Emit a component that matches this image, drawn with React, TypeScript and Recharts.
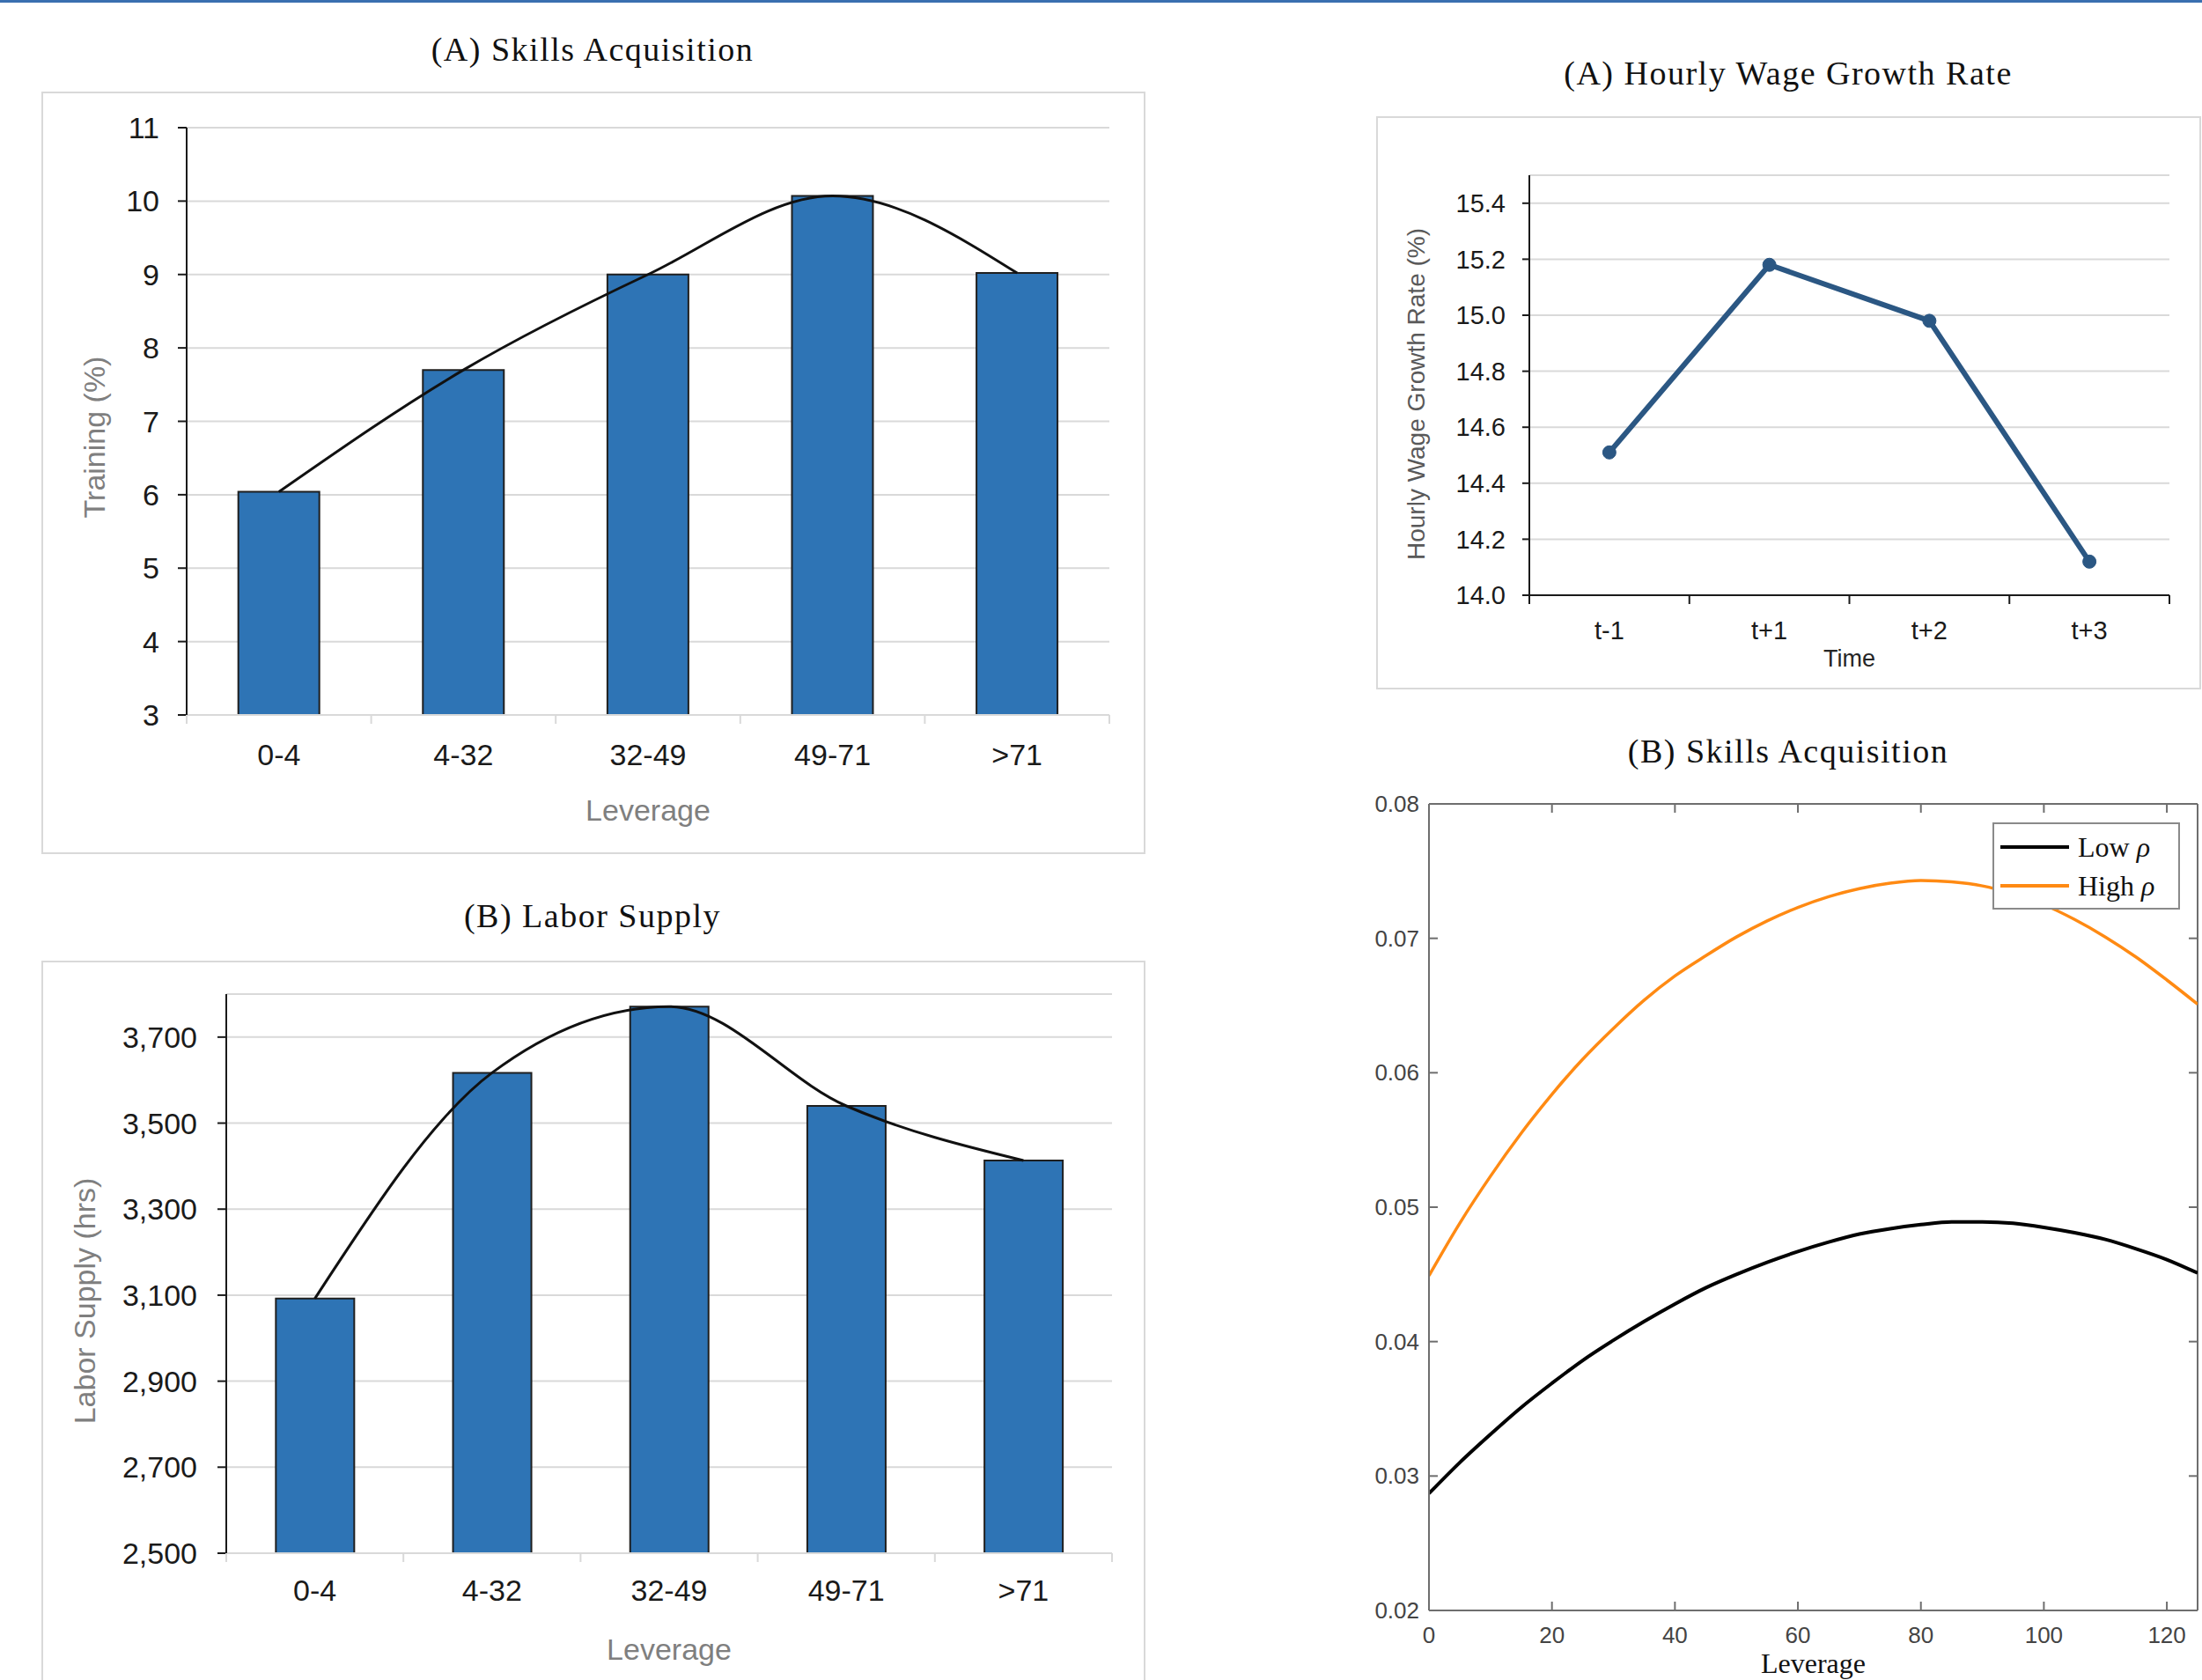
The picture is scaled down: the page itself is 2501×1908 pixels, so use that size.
import React from 'react';
import { ComposedChart, LineChart, Bar, Line, XAxis, YAxis, CartesianGrid, Legend, Label, ReferenceLine } from 'recharts';

// values
const leverageBins = ['0-4', '4-32', '32-49', '49-71', '>71'];
const trainingPct = [6.04, 7.7, 9.0, 10.07, 9.02];
const laborHours = [3092, 3617, 3771, 3540, 3413];
const trainingTicks = [3, 4, 5, 6, 7, 8, 9, 10, 11];
const laborTicks = [2500, 2700, 2900, 3100, 3300, 3500, 3700];

const timeLabels = ['t-1', 't+1', 't+2', 't+3'];
const wageGrowth = [14.51, 15.18, 14.98, 14.12];
const wageTicks = [14.0, 14.2, 14.4, 14.6, 14.8, 15.0, 15.2, 15.4];

const leverageGrid = [0, 5, 10, 15, 20, 25, 30, 35, 40, 45, 50, 55, 60, 65, 70, 75, 80, 85, 90, 95, 100, 105, 110, 115, 120, 125];
const lowRho = [0.0287, 0.031, 0.0331, 0.0351, 0.0369, 0.0386, 0.0401, 0.0415, 0.0428, 0.044, 0.045, 0.0459, 0.0467, 0.0474, 0.048, 0.0484, 0.0487, 0.0489, 0.0489, 0.0488, 0.0485, 0.0481, 0.0476, 0.0469, 0.0461, 0.0451];
const highRho = [0.0449, 0.0488, 0.0523, 0.0555, 0.0584, 0.061, 0.0633, 0.0654, 0.0672, 0.0687, 0.0701, 0.0713, 0.0723, 0.0731, 0.0737, 0.0741, 0.0743, 0.0742, 0.0739, 0.0733, 0.0725, 0.0714, 0.0701, 0.0686, 0.0669, 0.0651];
const modelXTicks = [0, 20, 40, 60, 80, 100, 120];
const modelYTicks = [0.02, 0.03, 0.04, 0.05, 0.06, 0.07, 0.08];

const SANS = "'Liberation Sans', Arial, Helvetica, sans-serif";
const SERIF = "'Liberation Serif', 'Times New Roman', serif";

const trainingData = leverageBins.map((bin, i) => ({ bin, value: trainingPct[i] }));
const laborData = leverageBins.map((bin, i) => ({ bin, value: laborHours[i] }));
const wageData = timeLabels.map((t, i) => ({ t, value: wageGrowth[i] }));
const modelData = leverageGrid.map((x, i) => ({ x, low: lowRho[i], high: highRho[i] }));

const Title = ({ text, cx, cy }: { text: string; cx: number; cy: number }) => (
  <div
    style={{
      position: 'absolute', left: cx - 400, top: cy - 22, width: 800, height: 44, lineHeight: '44px',
      textAlign: 'center', fontFamily: SERIF, fontSize: 38, letterSpacing: 1.5, color: '#111', whiteSpace: 'nowrap',
    }}
  >
    {text}
  </div>
);

// excel style category tick: label in the middle, small tick marks at the band edges
const CategoryTick = (props: any) => {
  const { x, y, payload, index, band, count, labelDy, fontSize, color, tickColor, tickLen } = props;
  const left = x - band / 2;
  return (
    <g>
      <line x1={left} y1={y} x2={left} y2={y + tickLen} stroke={tickColor} strokeWidth={2} />
      {index === count - 1 && <line x1={left + band} y1={y} x2={left + band} y2={y + tickLen} stroke={tickColor} strokeWidth={2} />}
      <text x={x} y={y + labelDy} dy="0.35em" textAnchor="middle" fontSize={fontSize} fill={color} fontFamily={SANS}>
        {payload.value}
      </text>
    </g>
  );
};

// matlab style: ticks point inwards, mirrored on the opposite side of the box
const BoxXTick = (props: any) => {
  const { x, y, payload, plotHeight } = props;
  return (
    <g>
      <line x1={x} y1={y} x2={x} y2={y - 10} stroke="#6e6e6e" strokeWidth={2} />
      <line x1={x} y1={y - plotHeight} x2={x} y2={y - plotHeight + 10} stroke="#6e6e6e" strokeWidth={2} />
      <text x={x} y={y + 28} dy="0.35em" textAnchor="middle" fontSize={26} fill="#444" fontFamily={SANS}>
        {payload.value}
      </text>
    </g>
  );
};

const BoxYTick = (props: any) => {
  const { x, y, payload, plotWidth } = props;
  return (
    <g>
      <line x1={x} y1={y} x2={x + 10} y2={y} stroke="#6e6e6e" strokeWidth={2} />
      <line x1={x + plotWidth - 10} y1={y} x2={x + plotWidth} y2={y} stroke="#6e6e6e" strokeWidth={2} />
      <text x={x - 11} y={y} dy="0.35em" textAnchor="end" fontSize={26} fill="#444" fontFamily={SANS}>
        {Number(payload.value).toFixed(2)}
      </text>
    </g>
  );
};

const xTitle = (text: string, dy: number, size: number, color: string, family = SANS) => ({ viewBox }: any) => (
  <text x={viewBox.x + viewBox.width / 2} y={viewBox.y + dy} dy="0.35em" textAnchor="middle" fontSize={size} fill={color} fontFamily={family}>
    {text}
  </text>
);

const yTitle = (text: string, dx: number, dyc: number, size: number, color: string) => ({ viewBox }: any) => {
  const cx = viewBox.x + dx;
  const cy = viewBox.y + viewBox.height / 2 + dyc;
  return (
    <text x={cx} y={cy} dy="0.35em" textAnchor="middle" transform={`rotate(-90 ${cx} ${cy})`} fontSize={size} fill={color} fontFamily={SANS}>
      {text}
    </text>
  );
};

const RhoLegend = ({ payload }: any) => (
  <div style={{ width: 213, height: 99, boxSizing: 'border-box', border: '2px solid #8a8a8a', background: '#fff', paddingTop: 4 }}>
    {(payload || []).map((p: any) => {
      const name = String(p.value);
      const word = name.slice(0, name.lastIndexOf(' '));
      return (
        <div key={name} style={{ display: 'flex', alignItems: 'center', height: 44 }}>
          <div style={{ width: 78, height: 4, background: p.color, marginLeft: 7 }} />
          <span style={{ marginLeft: 10, fontFamily: SERIF, fontSize: 32, color: '#111', lineHeight: '44px', whiteSpace: 'nowrap' }}>
            {word} <i>ρ</i>
          </span>
        </div>
      );
    })}
  </div>
);

const boxStyle = (left: number, top: number, width: number, height: number): React.CSSProperties => ({
  position: 'absolute', left, top, width, height, boxSizing: 'border-box', border: '2px solid #d9d9d9',
});

export default function App() {
  const dark = '#1a1a1a';
  const grid = '#d9d9d9';
  const band1 = (1260 - 212) / leverageBins.length;
  const band2 = (1263 - 257) / leverageBins.length;
  const band3 = (2464 - 1737) / timeLabels.length;
  const modelPlotW = 2496 - 1623;
  const modelPlotH = 1829 - 913;

  return (
    <div style={{ position: 'absolute', left: 0, top: 0, width: 2501, height: 1908, overflow: 'hidden', background: '#fff', fontFamily: SANS }}>
      <div style={{ position: 'absolute', left: 0, top: 0, width: 2501, height: 3, background: '#3a6fb0' }} />

      {/* (A) Skills Acquisition - bars */}
      <Title text="(A) Skills Acquisition" cx={673} cy={56} />
      <div style={boxStyle(47, 104, 1254, 866)} />
      <div style={{ position: 'absolute', left: 48, top: 105 }}>
        <ComposedChart width={1252} height={863} data={trainingData} margin={{ top: 40, right: 40, bottom: 96, left: 0 }} barCategoryGap="28%">
          <CartesianGrid vertical={false} stroke={grid} strokeWidth={2} />
          <XAxis
            dataKey="bin" interval={0} height={60} tickLine={false} tickSize={0} tickMargin={0}
            axisLine={{ stroke: grid, strokeWidth: 2 }}
            tick={<CategoryTick band={band1} count={leverageBins.length} labelDy={45} fontSize={34} color={dark} tickColor={grid} tickLen={10} />}
          >
            <Label content={xTitle('Leverage', 108, 34, '#7f7f7f')} />
          </XAxis>
          <YAxis
            domain={[3, 11]} ticks={trainingTicks} interval={0} width={164} tickSize={10} tickMargin={21}
            axisLine={{ stroke: dark, strokeWidth: 2 }} tickLine={{ stroke: dark, strokeWidth: 2 }}
            tick={{ fontSize: 34, fill: dark, fontFamily: SANS }}
          >
            <Label content={yTitle('Training (%)', 59, 18, 34, '#7f7f7f')} />
          </YAxis>
          <Bar dataKey="value" fill="#2e74b5" stroke="#1f1f1f" strokeWidth={2} isAnimationActive={false} />
          <Line type="monotone" dataKey="value" stroke="#111" strokeWidth={3} dot={false} isAnimationActive={false} />
        </ComposedChart>
      </div>

      {/* (B) Labor Supply - bars */}
      <Title text="(B) Labor Supply" cx={673} cy={1040} />
      <div style={boxStyle(47, 1091, 1254, 900)} />
      <div style={{ position: 'absolute', left: 48, top: 1091 }}>
        <ComposedChart width={1252} height={817} data={laborData} margin={{ top: 38, right: 37, bottom: 84, left: 0 }} barCategoryGap="28%">
          <CartesianGrid vertical={false} stroke={grid} strokeWidth={2} />
          <XAxis
            dataKey="bin" interval={0} height={60} tickLine={false} tickSize={0} tickMargin={0}
            axisLine={{ stroke: grid, strokeWidth: 2 }}
            tick={<CategoryTick band={band2} count={leverageBins.length} labelDy={42} fontSize={34} color={dark} tickColor={grid} tickLen={10} />}
          >
            <Label content={xTitle('Leverage', 109, 34, '#7f7f7f')} />
          </XAxis>
          <YAxis
            domain={[2500, 3800]} ticks={laborTicks} interval={0} width={209} tickSize={10} tickMargin={23}
            tickFormatter={(v: number) => v.toLocaleString('en-US')}
            axisLine={{ stroke: dark, strokeWidth: 2 }} tickLine={{ stroke: dark, strokeWidth: 2 }}
            tick={{ fontSize: 34, fill: dark, fontFamily: SANS }}
          >
            <Label content={yTitle('Labor Supply (hrs)', 48, 31, 34, '#7f7f7f')} />
          </YAxis>
          <Bar dataKey="value" fill="#2e74b5" stroke="#1f1f1f" strokeWidth={2} isAnimationActive={false} />
          <Line type="monotone" dataKey="value" stroke="#111" strokeWidth={3} dot={false} isAnimationActive={false} />
        </ComposedChart>
      </div>

      {/* (A) Hourly Wage Growth Rate - line */}
      <Title text="(A) Hourly Wage Growth Rate" cx={2031} cy={83} />
      <div style={boxStyle(1563, 132, 937, 651)} />
      <div style={{ position: 'absolute', left: 1563, top: 132 }}>
        <LineChart width={938} height={650} data={wageData} margin={{ top: 67, right: 37, bottom: 56, left: 0 }}>
          <CartesianGrid vertical={false} stroke={grid} strokeWidth={2} />
          <XAxis
            dataKey="t" interval={0} height={50} tickLine={false} tickSize={0} tickMargin={0}
            padding={{ left: band3 / 2, right: band3 / 2 }}
            axisLine={{ stroke: dark, strokeWidth: 2 }}
            tick={<CategoryTick band={band3} count={timeLabels.length} labelDy={40} fontSize={29} color={dark} tickColor={dark} tickLen={10} />}
          >
            <Label content={xTitle('Time', 72, 27, '#262626')} />
          </XAxis>
          <YAxis
            domain={[14, 15.5]} ticks={wageTicks} interval={0} width={174} tickSize={8} tickMargin={19}
            tickFormatter={(v: number) => v.toFixed(1)}
            axisLine={{ stroke: dark, strokeWidth: 2 }} tickLine={{ stroke: dark, strokeWidth: 2 }}
            tick={{ fontSize: 29, fill: dark, fontFamily: SANS }}
          >
            <Label content={yTitle('Hourly Wage Growth Rate (%)', 45, 10, 28, '#595959')} />
          </YAxis>
          <Line
            type="linear" dataKey="value" stroke="#2b5783" strokeWidth={6}
            dot={{ r: 7.5, fill: '#2b5783', stroke: '#2b5783', strokeWidth: 1 }} isAnimationActive={false}
          />
        </LineChart>
      </div>

      {/* (B) Skills Acquisition - model curves */}
      <Title text="(B) Skills Acquisition" cx={2031} cy={853} />
      <div style={{ position: 'absolute', left: 1540, top: 880 }}>
        <LineChart width={961} height={1028} data={modelData} margin={{ top: 33, right: 5, bottom: 39, left: 0 }}>
          <XAxis
            dataKey="x" type="number" domain={[0, 125]} ticks={modelXTicks} interval={0} allowDataOverflow
            height={40} tickSize={0} tickMargin={0} tickLine={false}
            axisLine={{ stroke: '#6e6e6e', strokeWidth: 2 }}
            tick={<BoxXTick plotHeight={modelPlotH} />}
          >
            <Label content={xTitle('Leverage', 60, 32, '#111', SERIF)} />
          </XAxis>
          <YAxis
            domain={[0.02, 0.08]} ticks={modelYTicks} interval={0} allowDataOverflow width={83}
            tickSize={0} tickMargin={0} tickLine={false}
            axisLine={{ stroke: '#6e6e6e', strokeWidth: 2 }}
            tick={<BoxYTick plotWidth={modelPlotW} />}
          />
          <ReferenceLine y={0.08} stroke="#6e6e6e" strokeWidth={2} ifOverflow="visible" />
          <ReferenceLine x={125} stroke="#6e6e6e" strokeWidth={2} ifOverflow="visible" />
          <Legend
            layout="vertical" align="center" verticalAlign="middle"
            wrapperStyle={{ left: 723, top: 54, width: 213 }}
            itemSorter={(item: any) => (item.dataKey === 'low' ? 0 : 1)}
            content={<RhoLegend />}
          />
          <Line name="Low ρ" type="monotone" dataKey="low" stroke="#000" strokeWidth={4} dot={false} isAnimationActive={false} />
          <Line name="High ρ" type="monotone" dataKey="high" stroke="#ff8a13" strokeWidth={3.5} dot={false} isAnimationActive={false} />
        </LineChart>
      </div>
    </div>
  );
}
